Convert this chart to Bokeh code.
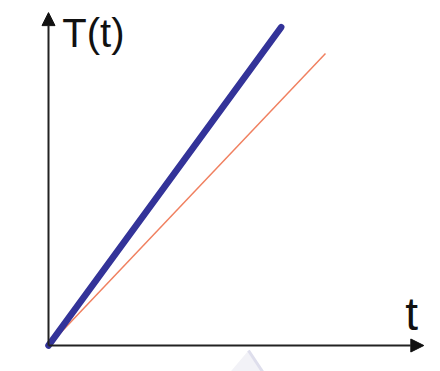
from bokeh.plotting import figure
from bokeh.models import Arrow, NormalHead, Label, Range1d
from bokeh.embed import file_html
from bokeh.resources import INLINE

# Data (arbitrary units)
t_fast = [0, 8.4]
T_fast = [0, 10.9]
t_slow = [0, 10.0]
T_slow = [0, 10.0]
t_axis_max = 13.55
T_axis_max = 11.4
axis_labels = ["T(t)", "t"]

W, H = 440, 371
p = figure(width=W, height=H, output_backend="svg", toolbar_location=None,
           x_range=Range1d(-1.733, 14.152), y_range=Range1d(-0.890, 11.815),
           min_border=0, border_fill_color="white", background_fill_color="white")
p.xaxis.visible = False
p.yaxis.visible = False
p.xgrid.visible = False
p.ygrid.visible = False
p.outline_line_color = None

# faint decorative shape at bottom
p.patch([7.22, 6.57, 7.73], [-0.17, -0.9, -0.9], fill_color="#f2f2f7", line_color=None)
p.line([7.22, 7.73], [-0.17, -0.9], line_color="#dedeec", line_width=3)

# axes with arrows
p.add_layout(Arrow(end=NormalHead(size=13, fill_color="#111111", line_color="#111111"),
                   x_start=0, y_start=0, x_end=t_axis_max, y_end=0,
                   line_color="#222222", line_width=2))
p.add_layout(Arrow(end=NormalHead(size=13, fill_color="#111111", line_color="#111111"),
                   x_start=0, y_start=0, x_end=0, y_end=T_axis_max,
                   line_color="#222222", line_width=2))

# lines
p.line(t_slow, T_slow, line_color="#f08060", line_width=1.5)
p.line(t_fast, T_fast, line_color="#333399", line_width=6.5, line_cap="round")

p.add_layout(Label(x=0.5, y=10.7, text=axis_labels[0], text_font="Liberation Sans",
                   text_font_size="40px", text_color="#111111", text_baseline="alphabetic"))
p.add_layout(Label(x=12.88, y=1.09, text=axis_labels[1], text_font="Liberation Sans",
                   text_font_size="46px", text_color="#111111", text_baseline="alphabetic"))

open("out.html", "w").write(file_html(p, INLINE))
